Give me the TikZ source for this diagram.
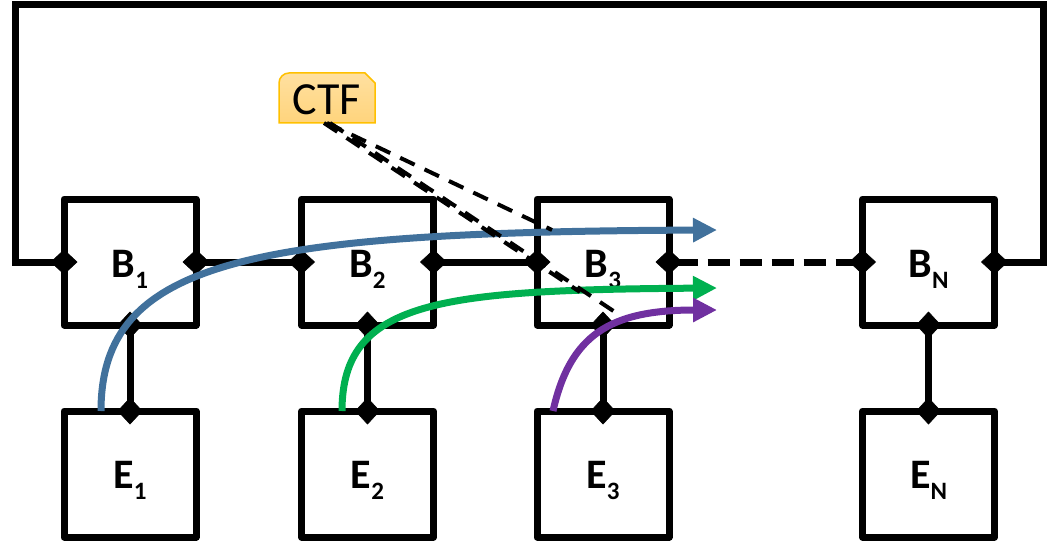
\documentclass[tikz,border=0pt]{standalone}
\usepackage{fontspec}
\setmainfont{Carlito}
\usetikzlibrary{arrows.meta}

\definecolor{flowblue}{HTML}{41719C}
\definecolor{flowgreen}{HTML}{00B050}
\definecolor{flowpurple}{HTML}{7030A0}
\definecolor{ctfedge}{HTML}{FFC000}
\definecolor{ctftop}{HTML}{FFE0A0}
\definecolor{ctfbot}{HTML}{FFD47C}

% lowered index digit for block names
\newcommand{\idx}[1]{\raisebox{-11pt}{\fontsize{25}{25}\selectfont #1}}

\begin{document}
\begin{tikzpicture}[x=1pt,y=-1pt,
  blk/.style={draw, line width=7pt, line join=round, minimum width=132pt,
    minimum height=126pt, inner sep=0pt, outer sep=0pt},
  lbl/.style={font=\fontsize{42}{42}\selectfont\bfseries, anchor=base, inner sep=0pt},
  dlink/.style={line width=7pt,
    {Diamond[length=27pt,width=25pt,line width=0.5pt]}-{Diamond[length=27pt,width=25pt,line width=0.5pt]},
    shorten <=-13.5pt, shorten >=-13.5pt},
  flow/.style={line width=7pt, -{Triangle[length=24pt,width=23pt]}},
  ctfline/.style={line width=4pt, dash pattern=on 16pt off 11pt},
  ctfbox/.style={minimum width=96pt, minimum height=50pt, inner sep=0pt, outer sep=0pt},
  ctfshape/.style={top color=ctftop, bottom color=ctfbot, draw=ctfedge, line width=1.5pt}
]
\path[use as bounding box] (0,0) rectangle (1051,548);

% blocks
\node[blk] (B1) at (130,262) {};
\node[blk] (B2) at (367.5,262) {};
\node[blk] (B3) at (603,262) {};
\node[blk] (BN) at (928.5,262) {};
\node[blk] (E1) at (130,474) {};
\node[blk] (E2) at (367.5,474) {};
\node[blk] (E3) at (603,474) {};
\node[blk] (EN) at (928.5,474) {};

% block names
\node[lbl] (tB1) at ([yshift=-15pt]B1.center) {B\idx{1}};
\node[lbl] (tB2) at ([yshift=-15pt]B2.center) {B\idx{2}};
\node[lbl] (tB3) at ([yshift=-15pt]B3.center) {B\idx{3}};
\node[lbl] (tBN) at ([yshift=-15pt]BN.center) {B\idx{N}};
\node[lbl] (tE1) at ([yshift=-14pt]E1.center) {E\idx{1}};
\node[lbl] (tE2) at ([yshift=-14pt]E2.center) {E\idx{2}};
\node[lbl] (tE3) at ([yshift=-14pt]E3.center) {E\idx{3}};
\node[lbl] (tEN) at ([yshift=-14pt]EN.center) {E\idx{N}};

% chain links
\draw[dlink] (B1.east) -- (B2.west);
\draw[dlink] (B2.east) -- (B3.west);
\draw[dlink, dash pattern=on 22pt off 10pt] (B3.east) -- (BN.west);
\draw[dlink] (B1.west) -- (15,262) -- (15,5) -- (1043,5) -- (1043,262) -- (BN.east);

% block-to-element links
\draw[dlink] (B1.south) -- (E1.north);
\draw[dlink] (B2.south) -- (E2.north);
\draw[dlink] (B3.south) -- (E3.north);
\draw[dlink] (BN.south) -- (EN.north);

% flows
\coordinate (fB) at (717,230);
\coordinate (fG) at (717,288);
\coordinate (fP) at (717,310);
\draw[flow, flowblue] ([xshift=-29pt]E1.north) .. controls (101,260) and (250,232) .. (fB);
\draw[flow, flowgreen] ([xshift=-25.5pt]E2.north) .. controls (342,300) and (440,290) .. (fG);
\draw[flow, flowpurple] ([xshift=-50pt]E3.north) .. controls (570,335) and (610,310) .. (fP);

% CTF tag
\node[ctfbox] (ctf) at (327,98) {};
\path[ctfshape] (ctf.south west) -- ([yshift=-10pt]ctf.north west)
  arc[start angle=180, end angle=90, radius=10pt]
  -- ([xshift=-10pt]ctf.north east) -- ([yshift=-10pt]ctf.north east)
  -- (ctf.south east) -- cycle;
\node[font=\fontsize{46}{46}\selectfont, anchor=base, inner sep=0pt] (tctf)
  at ([yshift=-17pt]ctf.center) {CTF};

% CTF pointers
\coordinate (cA) at (552,230);
\coordinate (cB) at (580,292);
\coordinate (cC) at (621,316);
\draw[ctfline] (ctf.south) -- (cA);
\draw[ctfline] ([xshift=-3pt]ctf.south) -- (cB);
\draw[ctfline] ([xshift=3pt]ctf.south) -- (cC);
\end{tikzpicture}
\end{document}
